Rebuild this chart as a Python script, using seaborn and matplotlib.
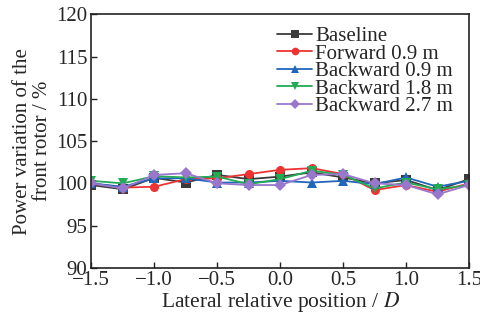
import matplotlib
matplotlib.use("Agg")
import matplotlib.pyplot as plt
import seaborn as sns
import pandas as pd
import numpy as np

x = [-1.5, -1.25, -1.0, -0.75, -0.5, -0.25, 0.0, 0.25, 0.5, 0.75, 1.0, 1.25, 1.5]
baseline = [99.8, 99.3, 100.65, 100.1, 101.0, 100.5, 100.8, 101.3, 100.7, 100.0, 100.4, 99.2, 100.5]
forward_09 = [100.0, 99.5, 99.6, 100.5, 100.6, 101.1, 101.6, 101.8, 101.1, 99.2, 99.8, 99.0, 100.0]
backward_09 = [100.0, 99.6, 100.6, 100.6, 100.1, 100.1, 100.3, 100.1, 100.3, 99.9, 100.7, 99.6, 100.3]
backward_18 = [100.3, 100.0, 100.85, 100.7, 100.8, 99.9, 100.5, 101.5, 101.0, 99.4, 100.1, 99.3, 99.8]
backward_27 = [100.0, 99.4, 101.0, 101.2, 100.0, 99.8, 99.8, 101.0, 101.1, 100.0, 99.8, 98.7, 99.8]

labels = ["Baseline", "Forward 0.9 m", "Backward 0.9 m", "Backward 1.8 m", "Backward 2.7 m"]
series = [baseline, forward_09, backward_09, backward_18, backward_27]
colors = ["#3a3a3a", "#ee3333", "#2266bb", "#22aa55", "#9977cc"]
markers = ["s", "o", "^", "v", "D"]

rows = []
for lab, vals in zip(labels, series):
    for xi, yi in zip(x, vals):
        rows.append({"x": xi, "y": yi, "case": lab})
df = pd.DataFrame(rows)

sns.set_style("ticks")
plt.rcParams['font.family'] = ['Liberation Serif', 'DejaVu Serif']
plt.rcParams['mathtext.fontset'] = 'stix'

fig = plt.figure(figsize=(4.81, 3.2), dpi=100)
ax = fig.add_axes([0.190, 0.163, 0.785, 0.792])

sns.lineplot(data=df, x="x", y="y", hue="case", style="case",
             palette=dict(zip(labels, colors)), markers=dict(zip(labels, markers)),
             dashes=False, markersize=6.5, linewidth=1.3, markeredgewidth=0,
             ax=ax, legend=True)

ax.set_xlim(-1.5, 1.5)
ax.set_ylim(90, 120)
ax.set_xticks([-1.5, -1.0, -0.5, 0.0, 0.5, 1.0, 1.5])
ax.set_xticklabels(["\u22121.5", "\u22121.0", "\u22120.5", "0.0", "0.5", "1.0", "1.5"])
ax.set_yticks([90, 95, 100, 105, 110, 115, 120])
ax.tick_params(direction="in", labelsize=15, length=4, width=1, color="#222222")
ax.tick_params(axis="x", pad=2)
ax.tick_params(axis="y", pad=3)
for s in ax.spines.values():
    s.set_visible(True)
    s.set_linewidth(1.2)
    s.set_color("#222222")

ax.set_xlabel("Lateral relative position / $D$", fontsize=15.5, labelpad=0)
ax.set_ylabel("Power variation of the\nfront rotor / %", fontsize=15, labelpad=3, linespacing=1.05)

leg = ax.legend(loc="upper right", bbox_to_anchor=(0.98, 0.985), frameon=False, fontsize=15,
                labelspacing=-0.1, handlelength=1.7, handletextpad=0.15, borderaxespad=0.0,
                markerscale=0.85)

fig.savefig("out.png", dpi=100)
